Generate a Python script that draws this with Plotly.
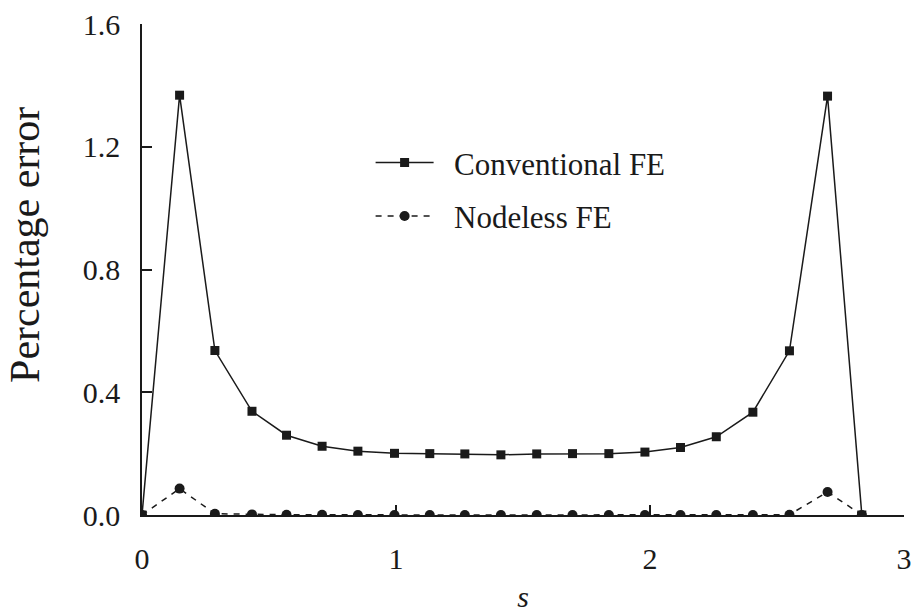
import plotly.graph_objects as go

# Data
s_values = [0.0, 0.148, 0.287, 0.433, 0.569, 0.709, 0.850, 0.994, 1.133, 1.271, 1.413,
            1.554, 1.695, 1.838, 1.980, 2.120, 2.261, 2.405, 2.549, 2.699, 2.834]
conventional_fe = [0.0, 1.368, 0.536, 0.338, 0.260, 0.224, 0.208, 0.201, 0.200, 0.199, 0.196,
                   0.199, 0.200, 0.200, 0.205, 0.220, 0.255, 0.335, 0.535, 1.365, 0.0]
nodeless_fe = [0.0, 0.086, 0.004, 0.002, 0.001, 0.001, 0.0, 0.0, 0.0, 0.0, 0.0,
               0.0, 0.0, 0.0, 0.0, 0.0, 0.0, 0.0, 0.001, 0.075, 0.0]

x_ticks = [0, 1, 2, 3]
y_ticks = [0.0, 0.4, 0.8, 1.2, 1.6]
y_tick_labels = ["0.0", "0.4", "0.8", "1.2", "1.6"]

FONT = "Liberation Serif"
INK = "#1a1a1a"
PAD = "\u00a0\u00a0"

fig = go.Figure()
fig.add_trace(go.Scatter(
    x=s_values, y=conventional_fe, name=PAD + "Conventional FE", mode="lines+markers",
    line=dict(color=INK, width=1.5),
    marker=dict(symbol="square", size=9, color=INK),
    legendgroup="a",
))
fig.add_trace(go.Scatter(
    x=s_values, y=nodeless_fe, name=PAD + "Nodeless FE", mode="lines+markers",
    line=dict(color=INK, width=1.5, dash="6px,6px"),
    marker=dict(symbol="circle", size=10, color=INK),
    legendgroup="b",
))

fig.add_annotation(
    text="Percentage error", textangle=-90, showarrow=False,
    xref="paper", yref="paper", x=-0.1535, y=0.55, xanchor="center", yanchor="middle",
    font=dict(family=FONT, size=42, color=INK),
)

fig.update_layout(
    width=917, height=613,
    margin=dict(l=142, r=13, t=24, b=98),
    paper_bgcolor="white", plot_bgcolor="white",
    font=dict(family=FONT, size=30, color=INK),
    showlegend=True,
    legend=dict(
        x=0.3, y=0.663, xanchor="left", yanchor="middle",
        bgcolor="rgba(0,0,0,0)", itemwidth=58, tracegroupgap=10,
        font=dict(family=FONT, size=31, color=INK),
    ),
    xaxis=dict(
        range=[0, 3], tickvals=x_ticks, ticktext=[str(v) for v in x_ticks],
        showgrid=False, zeroline=False, showline=True, linecolor=INK, linewidth=1.5,
        ticks="inside", ticklen=10, tickwidth=1.5, tickcolor=INK,
        ticklabelstandoff=16, automargin=False,
        title=dict(text="<i>s</i>", standoff=12, font=dict(family=FONT, size=30)),
    ),
    yaxis=dict(
        range=[0, 1.6], tickvals=y_ticks, ticktext=y_tick_labels,
        showgrid=False, zeroline=False, showline=True, linecolor=INK, linewidth=1.5,
        ticks="inside", ticklen=10, tickwidth=1.5, tickcolor=INK,
        ticklabelstandoff=14, automargin=False,
    ),
)

fig.write_html("out.html")
